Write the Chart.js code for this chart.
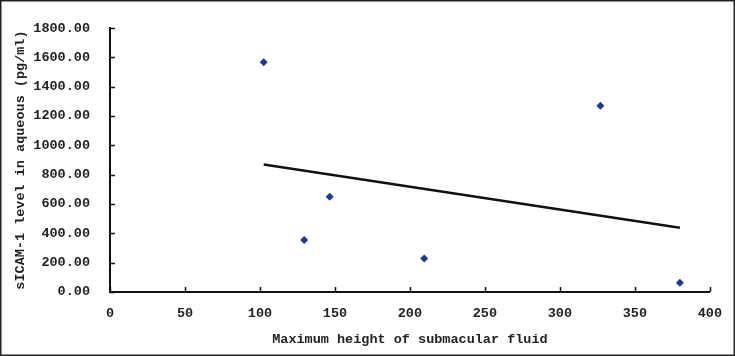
<!DOCTYPE html>
<html>
<head>
<meta charset="utf-8">
<script src="https://cdn.jsdelivr.net/npm/chart.js@4/dist/chart.umd.min.js"></script>
<style>
  html, body { margin: 0; padding: 0; background: #fff; }
  #wrap { width: 735px; height: 356px; }
</style>
</head>
<body>
<div id="wrap"><canvas id="scatterChart" width="735" height="356"></canvas></div>
<script>
// data
const heightValues = [102.5, 129.5, 146.5, 209.5, 327, 380];
const icamValues = [1567, 354, 649, 229, 1271, 63];
// linear trend line, endpoints
const trendX = [102.5, 380];
const trendY = [870, 438];

const xTitle = 'Maximum height of submacular fluid';
const yTitle = 'sICAM-1 level in aqueous (pg/ml)';

const textFont = { family: '"Liberation Mono", "DejaVu Sans Mono", monospace', size: 13.5, weight: 'bold' };
const textColor = '#222';

// tick marks drawn inside the plot, plus the frame around the image
const innerTicks = {
    id: 'innerTicks',
    afterDraw(chart) {
        const ctx = chart.ctx;
        const xs = chart.scales.x;
        const ys = chart.scales.y;
        const area = chart.chartArea;
        ctx.save();
        ctx.strokeStyle = '#111';
        ctx.lineWidth = 1.5;
        ctx.beginPath();
        xs.ticks.forEach(t => {
            const px = Math.round(xs.getPixelForValue(t.value)) + 0.5;
            ctx.moveTo(px, area.bottom);
            ctx.lineTo(px, area.bottom - 5);
        });
        ys.ticks.forEach(t => {
            const py = Math.round(ys.getPixelForValue(t.value)) + 0.5;
            ctx.moveTo(area.left, py);
            ctx.lineTo(area.left + 5, py);
        });
        ctx.stroke();
        // frame
        ctx.strokeStyle = '#222';
        ctx.lineWidth = 1.5;
        ctx.strokeRect(0.75, 0.75, chart.width - 1.5, chart.height - 1.5);
        ctx.restore();
    }
};

const ctx = document.getElementById('scatterChart').getContext('2d');
const myChart = new Chart(ctx, {
    type: 'scatter',
    data: {
        datasets: [{
            label: 'sICAM-1',
            data: heightValues.map((x, i) => ({ x: x, y: icamValues[i] })),
            pointStyle: 'rectRot',
            pointRadius: 4,
            backgroundColor: '#1d3a8a',
            borderColor: '#1d3a8a',
            borderWidth: 0
        }, {
            type: 'line',
            label: 'trend',
            data: trendX.map((x, i) => ({ x: x, y: trendY[i] })),
            borderColor: '#111',
            borderWidth: 2.5,
            pointRadius: 0,
            fill: false
        }]
    },
    options: {
        responsive: false,
        animation: false,
        layout: { padding: { left: 0, top: 14, right: 22, bottom: 0 } },
        plugins: {
            legend: { display: false },
            tooltip: { enabled: false }
        },
        scales: {
            x: {
                type: 'linear',
                min: 0,
                max: 400,
                afterFit: scale => { scale.height = 64; },
                border: { display: true, color: '#111', width: 2 },
                grid: { display: false, drawTicks: false },
                ticks: {
                    stepSize: 50,
                    padding: 13,
                    color: textColor,
                    font: textFont,
                    maxRotation: 0
                },
                title: {
                    display: true,
                    text: xTitle,
                    color: textColor,
                    font: textFont,
                    padding: { top: 0, bottom: 8 }
                }
            },
            y: {
                min: 0,
                max: 1800,
                afterFit: scale => { scale.width = 110; },
                border: { display: true, color: '#111', width: 2 },
                grid: { display: false, drawTicks: false },
                ticks: {
                    stepSize: 200,
                    padding: 20,
                    color: textColor,
                    font: textFont,
                    callback: v => v.toFixed(2)
                },
                title: {
                    display: true,
                    text: yTitle,
                    color: textColor,
                    font: textFont,
                    padding: { top: 12, bottom: 0 }
                }
            }
        }
    },
    plugins: [innerTicks]
});
</script>
</body>
</html>
